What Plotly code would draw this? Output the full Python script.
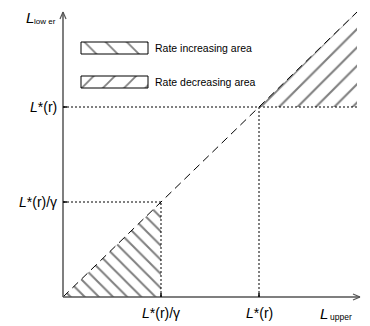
import plotly.graph_objects as go

# values (arbitrary units, gamma = 2)
l_star = 2.0
gamma = 2.0
diag_end = 3.0
tick_vals = [l_star / gamma, l_star]
tick_labels = ["<i>L</i>*(r)/γ", "<i>L</i>*(r)"]
legend_names = ["Rate increasing area", "Rate decreasing area"]
legend_patterns = ["\\", "/"]

# pixel <-> data mapping (origin at pixel 63,297)
X0, Y0, SX, SY = 63, 297, 98, 95
W, H = 370, 326


def dx(p):
    return (p - X0) / SX


def dy(p):
    return (Y0 - p) / SY


FONT = "Liberation Sans, Arial, sans-serif"
fig = go.Figure()

low = tick_vals[0]
# rate increasing area (below diagonal, left of L*/gamma)
fig.add_trace(go.Scatter(
    x=[0, low, low, 0], y=[0, 0, low, 0], fill="toself", mode="none",
    fillcolor="rgba(0,0,0,0)",
    fillpattern=dict(shape="\\", size=10, solidity=0.2, fgcolor="black", bgcolor="white"),
    showlegend=False, hoverinfo="skip"))
# rate decreasing area (above L*, right of diagonal)
fig.add_trace(go.Scatter(
    x=[l_star, diag_end, diag_end, l_star], y=[l_star, l_star, diag_end, l_star],
    fill="toself", mode="none", fillcolor="rgba(0,0,0,0)",
    fillpattern=dict(shape="/", size=13, solidity=0.16, fgcolor="black", bgcolor="white"),
    showlegend=False, hoverinfo="skip"))

# diagonal L_lower = L_upper
fig.add_trace(go.Scatter(
    x=[0, diag_end], y=[0, diag_end], mode="lines",
    line=dict(color="black", width=1, dash="8px,5px"),
    showlegend=False, hoverinfo="skip"))

shapes = []
annotations = []
dot = dict(color="black", width=1, dash="2px,2px")
# guides
shapes.append(dict(type="line", x0=0, y0=low, x1=low, y1=low, line=dot))
shapes.append(dict(type="line", x0=low, y0=0, x1=low, y1=low, line=dot))
shapes.append(dict(type="line", x0=0, y0=l_star, x1=diag_end, y1=l_star, line=dot))
shapes.append(dict(type="line", x0=l_star, y0=0, x1=l_star, y1=l_star, line=dot))

# axes with open arrow heads
axis_line = dict(color="#555555", width=1.5)
shapes.append(dict(type="line", x0=0, y0=0, x1=dx(360), y1=0, line=axis_line))
shapes.append(dict(type="line", x0=0, y0=0, x1=0, y1=dy(12), line=axis_line))
head = dict(color="#555555", width=1.2)
shapes.append(dict(type="line", x0=dx(353), y0=dy(Y0 - 3), x1=dx(360), y1=0, line=head))
shapes.append(dict(type="line", x0=dx(353), y0=dy(Y0 + 3), x1=dx(360), y1=0, line=head))
shapes.append(dict(type="line", x0=dx(X0 - 3), y0=dy(19), x1=0, y1=dy(12), line=head))
shapes.append(dict(type="line", x0=dx(X0 + 3), y0=dy(19), x1=0, y1=dy(12), line=head))

# ticks and tick labels
for v, lab in zip(tick_vals, tick_labels):
    shapes.append(dict(type="line", x0=v, y0=0, x1=v, y1=dy(Y0 - 4),
                       line=dict(color="black", width=1.5)))
    shapes.append(dict(type="line", x0=0, y0=v, x1=dx(X0 + 4), y1=v,
                       line=dict(color="black", width=1.5)))
    annotations.append(dict(x=v, y=dy(313), text=lab, showarrow=False,
                            xanchor="center", yanchor="middle",
                            font=dict(family=FONT, size=14, color="black")))
    annotations.append(dict(x=dx(59), y=v, text=lab, showarrow=False,
                            xanchor="right", yanchor="middle",
                            font=dict(family=FONT, size=14, color="black")))

# axis titles (big italic L, small subscript drawn as separate text)
title_font = dict(family=FONT, size=15, color="black")
sub_font = dict(family=FONT, size=8, color="black")
annotations.append(dict(x=dx(24), y=dy(17), text="<i>L</i>", showarrow=False,
                        xanchor="left", yanchor="middle", font=title_font))
annotations.append(dict(x=dx(32), y=dy(21), text="low er", showarrow=False,
                        xanchor="left", yanchor="middle", font=sub_font))
annotations.append(dict(x=dx(318), y=dy(313), text="<i>L</i>", showarrow=False,
                        xanchor="left", yanchor="middle", font=title_font))
annotations.append(dict(x=dx(328), y=dy(317), text="upper", showarrow=False,
                        xanchor="left", yanchor="middle", font=dict(family=FONT, size=8.5, color="black")))

# legend swatches
for i, (name, pat) in enumerate(zip(legend_names, legend_patterns)):
    top = 42 + 34 * i
    x0, x1, y0, y1 = dx(81), dx(148), dy(top + 12), dy(top)
    fig.add_trace(go.Scatter(
        x=[x0, x1, x1, x0, x0], y=[y0, y0, y1, y1, y0], fill="toself", mode="lines",
        line=dict(color="black", width=1), fillcolor="rgba(0,0,0,0)",
        fillpattern=dict(shape=pat, size=15, solidity=0.12, fgcolor="black", bgcolor="white"),
        showlegend=False, hoverinfo="skip"))
    annotations.append(dict(x=dx(153), y=dy(top + 6), text=name, showarrow=False,
                            xanchor="left", yanchor="middle",
                            font=dict(family=FONT, size=10.5, color="black")))

fig.update_layout(
    width=W, height=H, margin=dict(l=0, r=0, t=0, b=0),
    paper_bgcolor="white", plot_bgcolor="white",
    shapes=shapes, annotations=annotations, showlegend=False,
    xaxis=dict(range=[dx(0), dx(W)], visible=False, fixedrange=True),
    yaxis=dict(range=[dy(H), dy(0)], visible=False, fixedrange=True),
)
fig.write_html("out.html", config={"displayModeBar": False},
               post_script="document.body.style.margin='0';")
